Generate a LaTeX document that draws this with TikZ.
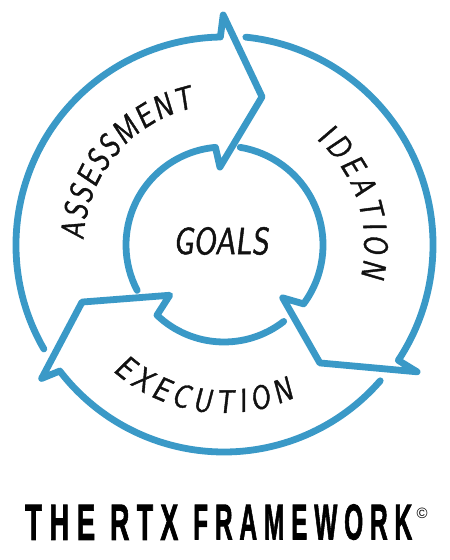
\documentclass[tikz,border=0pt]{standalone}
\usepackage{fontspec}
\usepackage{graphicx}
\usetikzlibrary{decorations.text}
\definecolor{ringblue}{RGB}{58,153,199}
\definecolor{inkblack}{RGB}{17,17,17}
\newfontfamily\handfont{lmsans10-regular}[Extension=.otf, FakeSlant=0.12, FakeStretch=0.8, FakeBold=1.2]
\newfontfamily\titlefont{Liberation Sans}[BoldFeatures={FakeBold=2}]
\newcommand\rtxgap{\hspace{0.28em}}
\newcommand\rtxword[2]{\resizebox{#1bp}{35bp}{\titlefont\bfseries #2}}
\tikzset{
  ring/.style={draw=ringblue, line width=6.8bp, line cap=round, line join=round},
  handlabel/.style={text=inkblack, font=\handfont\fontsize{38}{38}\selectfont},
  titleword/.style={anchor=south west, inner sep=0},
}
\begin{document}
\begin{tikzpicture}[x=1bp,y=1bp]
\useasboundingbox (0,0) rectangle (450,560);
\begin{scope}[shift={(224,315)}]
  % Assessment arrow
  \draw[ring] (210:208) arc[start angle=210, end angle=91, radius=208]
     -- (90.2:230) -- (75.6:153) -- (93:78) -- (95:98)
     arc[start angle=95, end angle=207.6, radius=98];
  % Ideation arrow
  \draw[ring] (84:209) arc[start angle=84, end angle=-33.5, radius=209]
     -- (-33.3:231) -- (-50.9:152) -- (-42:79) -- (-36.5:99)
     arc[start angle=-36.5, end angle=80.6, radius=99];
  % Execution arrow
  \draw[ring] (-41:207) arc[start angle=-41, end angle=-142.5, radius=207]
     -- (-143.8:226) -- (-158.1:153) -- (-137.2:74) -- (-133.7:97)
     arc[start angle=-133.7, end angle=-52, radius=97];
  % labels along the arrows
  \path[decorate, decoration={text along path,
      text={|\color{inkblack}\handfont\fontsize{33}{33}\selectfont|ASSESSMENT},
      text align=fit to path}]
      (178:140.5) arc[start angle=178, end angle=102, radius=140.5];
  \path[decorate, decoration={text along path,
      text={|\color{inkblack}\handfont\fontsize{33}{33}\selectfont|IDEATION},
      text align=fit to path}]
      (49:140.5) arc[start angle=49, end angle=-13, radius=140.5];
  \path[decorate, decoration={text along path,
      text={|\color{inkblack}\handfont\fontsize{33}{33}\selectfont|EXECUTION},
      text align=fit to path}]
      (-131.5:168) arc[start angle=-131.5, end angle=-65, radius=168];
\end{scope}
\node[handlabel] (goals) at (221,319) {GOALS};
\node[titleword] (the) at (25,20) {\rtxword{70}{T\rtxgap H\rtxgap E}};
\node[titleword] (rtx) at (110,20) {\rtxword{68}{R\rtxgap T\rtxgap X}};
\node[titleword] (framework) at (193,20)
  {\rtxword{219}{F\rtxgap R\rtxgap A\rtxgap M\rtxgap E\rtxgap W\rtxgap O\rtxgap R\rtxgap K}};
\node[inner sep=0, font=\titlefont\fontsize{15}{15}\selectfont] (copy) at (422,47) {\textcopyright};
\end{tikzpicture}
\end{document}
